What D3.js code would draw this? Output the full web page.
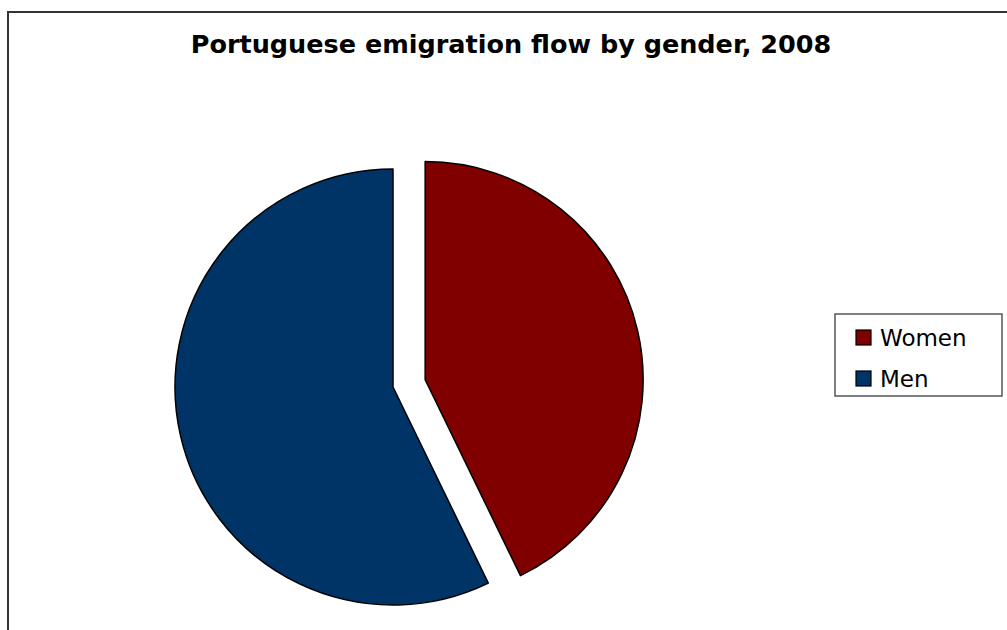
<!DOCTYPE html>
<html>
<head>
<meta charset="utf-8">
<script src="https://cdn.jsdelivr.net/npm/d3@7"></script>
<style>
  html, body { margin: 0; padding: 0; background: #fff; }
  svg { display: block; }
</style>
</head>
<body>
<div id="chart"></div>
<script>
// --- Data ---
const categories = ["Women", "Men"];
const shares = [42.8, 57.2];
const colors = ["#800000", "#003366"];
const title = "Portuguese emigration flow by gender, 2008";

const width = 1007;
const height = 630;

const svg = d3.select("#chart")
  .append("svg")
  .attr("width", width)
  .attr("height", height);

// Outer frame (runs off the right and bottom edges)
svg.append("rect")
  .attr("x", 8)
  .attr("y", 12)
  .attr("width", 1020)
  .attr("height", 640)
  .attr("fill", "#fff")
  .attr("stroke", "#333")
  .attr("stroke-width", 2);

// Title
svg.append("text")
  .attr("x", 511)
  .attr("y", 53)
  .attr("text-anchor", "middle")
  .style("font-family", "DejaVu Sans, Verdana, sans-serif")
  .style("font-weight", "bold")
  .style("font-size", "25.5px")
  .text(title);

// --------------------------
// PIE
// --------------------------
const cx = 393, cy = 387, radius = 218, explode = 33;

const data = categories.map((c, i) => ({ name: c, value: shares[i], color: colors[i] }));

const pie = d3.pie()
  .sort(null)
  .value(d => d.value);

const arc = d3.arc()
  .innerRadius(0)
  .outerRadius(radius);

const slices = svg.append("g")
  .attr("transform", `translate(${cx},${cy})`);

slices.selectAll("path")
  .data(pie(data))
  .join("path")
    .attr("d", arc)
    .attr("fill", d => d.data.color)
    .attr("stroke", "#000")
    .attr("stroke-width", 1.5)
    .attr("stroke-linejoin", "round")
    .attr("transform", d => {
      if (d.data.name !== "Women") return null;
      const mid = (d.startAngle + d.endAngle) / 2;
      return `translate(${Math.sin(mid) * explode},${-Math.cos(mid) * explode})`;
    });

// --------------------------
// LEGEND
// --------------------------
const legend = svg.append("g")
  .attr("transform", "translate(835,314)");

legend.append("rect")
  .attr("width", 167)
  .attr("height", 82)
  .attr("fill", "#fff")
  .attr("stroke", "#555")
  .attr("stroke-width", 1.5);

const items = legend.selectAll("g.item")
  .data(data)
  .join("g")
    .attr("class", "item")
    .attr("transform", (d, i) => `translate(21,${16 + i * 41})`);

items.append("rect")
  .attr("width", 15)
  .attr("height", 15)
  .attr("fill", d => d.color)
  .attr("stroke", "#000")
  .attr("stroke-width", 1.2);

items.append("text")
  .attr("x", 24)
  .attr("y", 16)
  .style("font-family", "DejaVu Sans, Verdana, sans-serif")
  .style("font-size", "23px")
  .attr("fill", "#000")
  .text(d => d.name);
</script>
</body>
</html>
